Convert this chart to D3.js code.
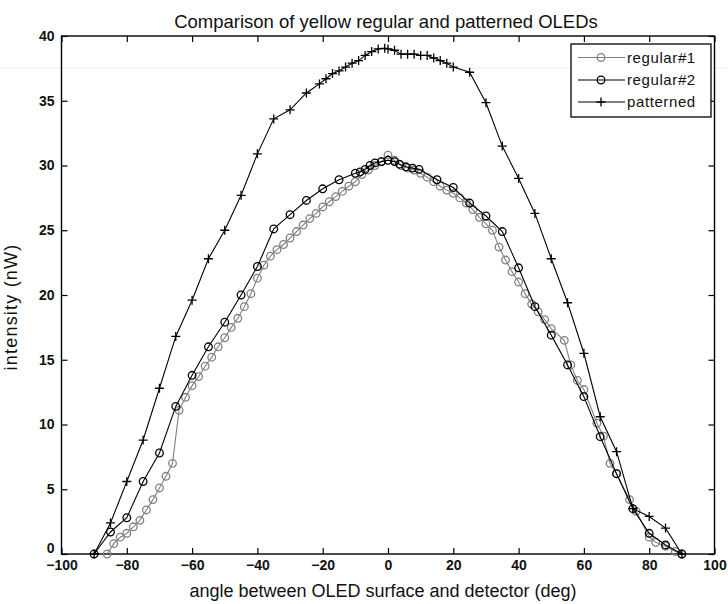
<!DOCTYPE html>
<html>
<head>
<meta charset="utf-8">
<script src="https://cdn.jsdelivr.net/npm/d3@7"></script>
<style>
  body { margin: 0; background: #fff; }
  svg { display: block; font-family: 'Liberation Sans', Arial, sans-serif; }
</style>
</head>
<body>
<svg width="728" height="604"></svg>
<script>
// regular #1 (grey circles), sampled every 2 degrees
const regular1Angle = [-86, -84, -82, -80, -78, -76, -74, -72, -70, -68, -66, -64, -62, -60, -58, -56, -54, -52, -50, -48,
  -46, -44, -42, -40, -38, -36, -34, -32, -30, -28, -26, -24, -22, -20, -18, -16, -14, -12, -10, -8, -6, -4, -2, 0,
  2, 4, 6, 8, 10, 12, 14, 16, 18, 20, 22, 24, 26, 28, 30, 32, 34, 36, 38, 40, 42, 44, 46, 48, 50, 54, 56, 58, 60,
  64, 66, 68, 70, 74, 76, 80, 82, 85, 88, 90];
const regular1Intensity = [0, 0.8, 1.3, 1.6, 2.1, 2.6, 3.4, 4.2, 5.1, 6.0, 7.0, 11.1, 12.1, 13.0, 13.7, 14.5, 15.2, 16.0, 16.7, 17.5,
  18.2, 19.1, 20.1, 21.3, 22.3, 23.0, 23.5, 23.9, 24.4, 24.9, 25.4, 25.9, 26.3, 26.8, 27.2, 27.6, 28.0, 28.4, 28.75, 29.3, 29.65, 30.0, 30.3, 30.8,
  30.4, 30.0, 29.8, 29.65, 29.4, 29.1, 28.75, 28.4, 28.1, 27.85, 27.5, 27.1, 26.6, 26.0, 25.5, 25.0, 23.7, 22.7, 21.8, 21.0, 20.1, 19.3, 18.7, 18.1, 17.4, 16.5, 14.6, 13.4, 12.7,
  10.1, 9.1, 7.0, 6.2, 4.2, 3.3, 1.3, 0.9, 0.6, 0.2, 0];

// regular #2 (black circles)
const regular2Angle = [-90, -85, -80, -75, -70, -65, -60, -55, -50, -45, -40, -35, -30, -25, -20, -15, -10, -8.5, -7, -5.5, -4, -2, 0,
  2, 3.5, 5.5, 7.5, 9.5, 15, 20, 25, 30, 35, 40, 45, 50, 55, 60, 65, 70, 75, 80, 85, 90];
const regular2Intensity = [0, 1.7, 2.8, 5.6, 7.8, 11.4, 13.8, 16.0, 17.9, 20.0, 22.2, 25.1, 26.2, 27.3, 28.2, 28.9, 29.4, 29.5, 29.7, 30.0, 30.2, 30.3, 30.4,
  30.3, 30.1, 29.9, 29.8, 29.7, 28.9, 28.3, 27.1, 26.1, 24.9, 22.1, 19.1, 16.9, 14.6, 12.15, 9.06, 6.2, 3.5, 1.6, 0.7, 0];

// patterned (plus markers)
const patternedAngle = [-90, -85, -80, -75, -70, -65, -60, -55, -50, -45, -40, -35, -30, -25, -21, -19, -17, -15, -13, -11, -9, -7, -5, -3, -1, 0,
  2, 4, 6, 8, 10, 12, 14, 16, 18, 20, 25, 30, 35, 40, 45, 50, 55, 60, 65, 70, 75, 80, 85, 90];
const patternedIntensity = [0, 2.4, 5.6, 8.8, 12.8, 16.8, 19.6, 22.8, 25.0, 27.7, 30.9, 33.6, 34.3, 35.6, 36.3, 36.7, 37.1, 37.3, 37.6, 37.9, 38.1, 38.5, 38.8, 39.0, 39.05, 39.0,
  38.9, 38.6, 38.6, 38.6, 38.5, 38.5, 38.3, 38.1, 37.9, 37.6, 37.2, 34.85, 31.5, 29.0, 26.3, 22.8, 19.4, 15.5, 10.6, 7.9, 3.5, 2.9, 2.0, 0];

const xTicks = [-100, -80, -60, -40, -20, 0, 20, 40, 60, 80, 100];
const yTicks = [0, 5, 10, 15, 20, 25, 30, 35, 40];
const seriesNames = ['regular#1', 'regular#2', 'patterned'];

const plotLeft = 61.5, plotRight = 714.5, plotTop = 36, plotBottom = 554;

const svg = d3.select('svg');

// faint scan line across the page
svg.append('line')
    .attr('x1', 0).attr('x2', 728)
    .attr('y1', 68).attr('y2', 68)
    .attr('stroke', '#ececec');

const xScale = d3.scaleLinear().domain([-100, 100]).range([plotLeft, plotRight]);
const yScale = d3.scaleLinear().domain([0, 40]).range([plotBottom, plotTop]);

function styleAxis(g) {
  g.select('.domain').remove();
  g.selectAll('.tick line').attr('stroke', '#000').attr('stroke-width', 1.2);
  g.selectAll('.tick text')
      .attr('fill', '#111')
      .style('font-size', '14px')
      .style('font-weight', 'bold');
}

svg.append('g')
    .attr('transform', `translate(0, ${plotBottom})`)
    .call(d3.axisBottom(xScale).tickValues(xTicks).tickSizeInner(-6).tickSizeOuter(0).tickPadding(6))
    .call(styleAxis);
svg.append('g')
    .attr('transform', `translate(0, ${plotTop})`)
    .call(d3.axisTop(xScale).tickValues(xTicks).tickSizeInner(-6).tickSizeOuter(0).tickFormat(''))
    .call(styleAxis);
svg.append('g')
    .attr('transform', `translate(${plotLeft}, 0)`)
    .call(d3.axisLeft(yScale).tickValues(yTicks).tickSizeInner(-6).tickSizeOuter(0).tickPadding(7))
    .call(styleAxis);
svg.append('g')
    .attr('transform', `translate(${plotRight}, 0)`)
    .call(d3.axisRight(yScale).tickValues(yTicks).tickSizeInner(-6).tickSizeOuter(0).tickFormat(''))
    .call(styleAxis);

// the "0" of the y axis sits just above the x axis, as in the reference
svg.selectAll('g.tick text')
    .filter(function(d) { return d === 0 && this.parentNode.parentNode.getAttribute('transform').startsWith(`translate(${plotLeft}`); })
    .attr('dy', '-0.1em');

// frame
svg.append('rect')
    .attr('x', plotLeft).attr('y', plotTop)
    .attr('width', plotRight - plotLeft).attr('height', plotBottom - plotTop)
    .attr('fill', 'none')
    .attr('stroke', '#000')
    .attr('stroke-width', 1.4);

const line = d3.line()
    .x(d => xScale(d[0]))
    .y(d => yScale(d[1]));

const reg1 = regular1Angle.map((a, i) => [a, regular1Intensity[i]]);
const reg2 = regular2Angle.map((a, i) => [a, regular2Intensity[i]]);
const pat = patternedAngle.map((a, i) => [a, patternedIntensity[i]]);

const grey = '#808080';

function circles(data, color) {
  svg.append('g')
      .selectAll('circle')
      .data(data)
      .join('circle')
      .attr('cx', d => xScale(d[0]))
      .attr('cy', d => yScale(d[1]))
      .attr('r', 3.8)
      .attr('fill', 'none')
      .attr('stroke', color)
      .attr('stroke-width', 1.3);
}

function plus(g, x, y) {
  g.append('path')
      .attr('d', `M${x - 4.5},${y}H${x + 4.5}M${x},${y - 4.5}V${y + 4.5}`)
      .attr('stroke', '#000')
      .attr('stroke-width', 1.3);
}

svg.append('path')
    .attr('d', line(reg1))
    .attr('fill', 'none')
    .attr('stroke', grey)
    .attr('stroke-width', 1.1);
circles(reg1, grey);

svg.append('path')
    .attr('d', line(reg2))
    .attr('fill', 'none')
    .attr('stroke', '#000')
    .attr('stroke-width', 1.1);
circles(reg2, '#000');

svg.append('path')
    .attr('d', line(pat))
    .attr('fill', 'none')
    .attr('stroke', '#000')
    .attr('stroke-width', 1.1);
const patG = svg.append('g');
pat.forEach(d => plus(patG, xScale(d[0]), yScale(d[1])));

// legend
const legend = svg.append('g');
legend.append('rect')
    .attr('x', 571).attr('y', 44)
    .attr('width', 140).attr('height', 73)
    .attr('fill', '#fff')
    .attr('stroke', '#000')
    .attr('stroke-width', 1.3);

const rowY = [57.5, 80, 102];
seriesNames.forEach((name, i) => {
  const y = rowY[i];
  const color = i === 0 ? grey : '#000';
  legend.append('line')
      .attr('x1', 578).attr('x2', 625)
      .attr('y1', y).attr('y2', y)
      .attr('stroke', color)
      .attr('stroke-width', 1.1);
  if (i < 2) {
    legend.append('circle')
        .attr('cx', 601).attr('cy', y).attr('r', 3.8)
        .attr('fill', 'none').attr('stroke', color).attr('stroke-width', 1.3);
  } else {
    plus(legend, 601, y);
  }
  legend.append('text')
      .attr('x', 627).attr('y', y + 5)
      .style('font-size', '15px')
      .style('letter-spacing', '0.6px')
      .attr('fill', '#111')
      .text(name);
});

// titles
svg.append('text')
    .attr('x', 386).attr('y', 28)
    .attr('text-anchor', 'middle')
    .style('font-size', '18.5px')
    .attr('fill', '#111')
    .text('Comparison of yellow regular and patterned OLEDs');

svg.append('text')
    .attr('x', 383).attr('y', 597)
    .attr('text-anchor', 'middle')
    .style('font-size', '18px')
    .attr('fill', '#111')
    .text('angle between OLED surface and detector (deg)');

svg.append('text')
    .attr('transform', 'translate(17, 307) rotate(-90)')
    .attr('text-anchor', 'middle')
    .style('font-size', '18px')
    .style('letter-spacing', '1.2px')
    .attr('fill', '#111')
    .text('intensity (nW)');
</script>
</body>
</html>
